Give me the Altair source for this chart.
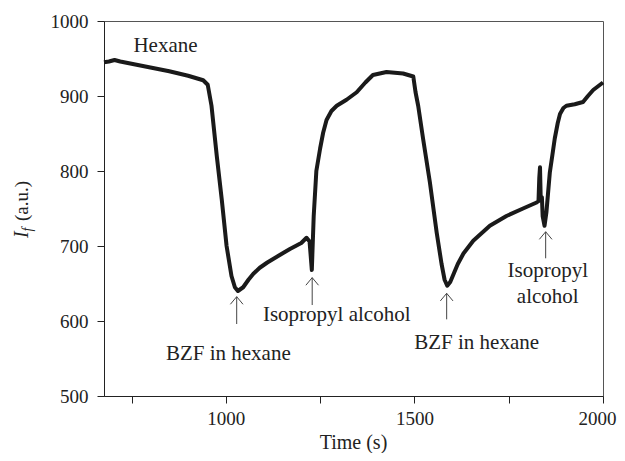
import altair as alt
import pandas as pd

# Fluorescence intensity trace
time_s = [677, 690, 705, 720, 760, 800, 850, 900, 940, 952, 962, 976, 989, 1002, 1015,
          1024, 1032, 1046, 1060, 1073, 1090, 1110, 1143, 1170, 1200, 1214, 1222, 1228,
          1233, 1240, 1250, 1258, 1267, 1280, 1294, 1320, 1347, 1370, 1390, 1426, 1470,
          1497, 1503, 1510, 1523, 1541, 1559, 1572, 1580, 1587, 1595, 1605, 1615, 1630,
          1656, 1700, 1744, 1788, 1824, 1829, 1831, 1833, 1835, 1838, 1840, 1845, 1850,
          1859, 1866, 1872, 1880, 1886, 1895, 1903, 1925, 1947, 1960, 1974, 2000]
intensity = [945, 946, 948, 946, 942, 938, 933, 927, 921, 915, 887, 820, 763, 700, 660,
             645, 640, 645, 655, 663, 671, 678, 688, 696, 704, 711, 706, 668,
             740, 800, 830, 851, 868, 880, 887, 895, 905, 918, 928, 932, 930,
             926, 905, 887, 843, 785, 718, 676, 655, 647, 652, 664, 676, 690,
             707, 727, 740, 750, 758, 760, 790, 805, 760, 765, 740, 727, 745,
             798, 822, 843, 864, 876, 884, 887, 889, 892, 900, 908, 918]

# Annotations
label_text = ["Hexane", "BZF in hexane", "Isopropyl alcohol", "BZF in hexane", "Isopropyl", "alcohol"]
label_x = [840, 1006.6, 1294, 1665, 1853.5, 1853.5]
label_y = [959.3, 548, 600.4, 562.2, 659, 624.4]

arrow_x = [1028.8, 1229, 1585.5, 1848]
arrow_tip = [632.4, 657.8, 636.9, 719]
arrow_base = [596, 621.3, 602.2, 683.6]

x_ticks = [750, 1000, 1250, 1500, 1750, 2000]
y_ticks = [500, 550, 600, 650, 700, 750, 800, 850, 900, 950, 1000]

FONT = "Liberation Serif"
INK = "#222222"

df = pd.DataFrame({"t": time_s, "i": intensity})
ann = pd.DataFrame({"label": label_text, "x": label_x, "y": label_y})
arr = pd.DataFrame({"x": arrow_x, "tip": arrow_tip, "base": arrow_base})
one = pd.DataFrame({"a": [0]})

xscale = alt.Scale(domain=[677, 2000], nice=False, zero=False)
yscale = alt.Scale(domain=[500, 1000], nice=False, zero=False)

xaxis = alt.Axis(values=x_ticks, format="d", title=None, grid=False,
                 labelExpr="datum.value % 500 == 0 ? datum.label : ''",
                 labelFlush=True, labelFlushOffset=13, labelOverlap=False, labelPadding=6,
                 labelFont=FONT, labelFontSize=19, labelColor=INK,
                 tickColor=INK, domainColor=INK, tickSize=7)
yaxis = alt.Axis(values=y_ticks, format="d", title=None, grid=False,
                 labelExpr="datum.value % 100 == 0 ? datum.label : ''",
                 labelFlush=False, labelOverlap=False, labelPadding=9,
                 labelFont=FONT, labelFontSize=19, labelColor=INK,
                 tickColor=INK, domainColor=INK, tickSize=7)

line = alt.Chart(df).mark_line(color="#1a1a1a", strokeWidth=4, strokeJoin="round").encode(
    x=alt.X("t:Q", scale=xscale, axis=xaxis),
    y=alt.Y("i:Q", scale=yscale, axis=yaxis),
)

texts = alt.Chart(ann).mark_text(font=FONT, fontSize=21, color=INK,
                                 align="center", baseline="alphabetic").encode(
    x=alt.X("x:Q", scale=xscale), y=alt.Y("y:Q", scale=yscale), text="label:N")

shafts = alt.Chart(arr).mark_rule(color="#444444", strokeWidth=1).encode(
    x=alt.X("x:Q", scale=xscale), y=alt.Y("tip:Q", scale=yscale), y2="base:Q")

heads = alt.Chart(arr).mark_point(shape="M-1,1.2L0,0L1,1.2", size=160, filled=False,
                                  stroke="#444444", strokeWidth=1, opacity=1).encode(
    x=alt.X("x:Q", scale=xscale), y=alt.Y("tip:Q", scale=yscale))

ytitle_I = alt.Chart(one).mark_text(font=FONT, fontSize=20, fontStyle="italic", color=INK,
                                    angle=270, align="left", baseline="alphabetic").encode(
    x=alt.value(-76.5), y=alt.value(217), text=alt.value("I"))
ytitle_f = alt.Chart(one).mark_text(font=FONT, fontSize=14, fontStyle="italic", color=INK,
                                    angle=270, align="left", baseline="alphabetic").encode(
    x=alt.value(-72), y=alt.value(210.5), text=alt.value("f"))
ytitle_rest = alt.Chart(one).mark_text(font=FONT, fontSize=19, color=INK,
                                       angle=270, align="left", baseline="alphabetic").encode(
    x=alt.value(-76.5), y=alt.value(200), text=alt.value("(a.u.)"))
xtitle = alt.Chart(one).mark_text(font=FONT, fontSize=20, color=INK,
                                  align="center", baseline="alphabetic").encode(
    x=alt.value(249.5), y=alt.value(427.5), text=alt.value("Time (s)"))

chart = alt.layer(line, texts, shafts, heads, ytitle_I, ytitle_f, ytitle_rest, xtitle).properties(
    width=499, height=375,
    autosize=alt.AutoSizeParams(type="none"),
    padding={"left": 96, "top": 13, "right": 14, "bottom": 57},
    background="white",
).configure_view(stroke="#555555", strokeWidth=1)

chart.save("out.html", embed_options={"renderer": "svg", "actions": False})
